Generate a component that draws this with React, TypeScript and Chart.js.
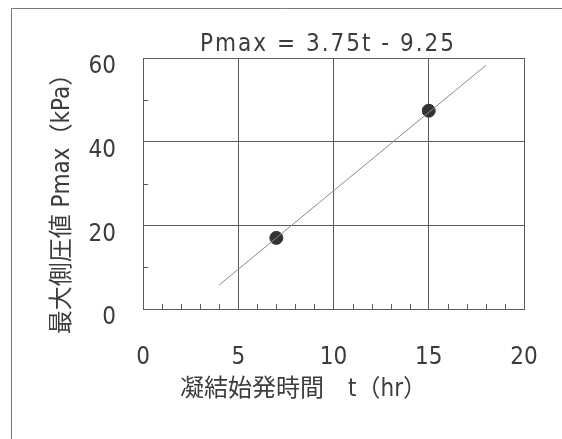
import React, { useEffect, useRef } from 'react';
import { Chart, registerables } from 'chart.js';
Chart.register(...registerables);

// fitted line end points (t, Pmax)
const fitT = [4, 18];
const fitP = [5.75, 58.25];
// observed points
const obsT = [7, 15];
const obsP = [17, 47.4];
// tick labels
const xTicks = [0, 5, 10, 15, 20];
const yTicks = [0, 20, 40, 60];
const xMinor = [1, 2, 3, 4, 6, 7, 8, 9, 11, 12, 13, 14, 16, 17, 18, 19];
const yMinor = [10, 30, 50];
const chartTitle = 'Pmax = 3.75t - 9.25';
const xTitle = '凝結始発時間\u3000t（hr）';
const yTitle = '最大側圧値 Pmax（kPa）';

const FONT = "'Liberation Sans Narrow', 'DejaVu Sans Condensed', 'Noto Sans CJK JP', sans-serif";
const TEXT = '#3c3c3c';
const GRID = '#5a5a5a';

const decor = {
  id: 'decor',
  afterDraw(chart: any) {
    const ctx = chart.ctx;
    const xs = chart.scales.x;
    const ys = chart.scales.y;
    const area = chart.chartArea;
    ctx.save();
    // outer frame (top and left edges)
    ctx.strokeStyle = '#777777';
    ctx.lineWidth = 1;
    ctx.beginPath();
    ctx.moveTo(11.5, 439);
    ctx.lineTo(11.5, 8.5);
    ctx.lineTo(562, 8.5);
    ctx.stroke();
    // minor ticks
    ctx.strokeStyle = GRID;
    ctx.beginPath();
    xMinor.forEach((v) => {
      const px = Math.round(xs.getPixelForValue(v)) + 0.5;
      ctx.moveTo(px, area.bottom);
      ctx.lineTo(px, area.bottom - 5);
    });
    yMinor.forEach((v) => {
      const py = Math.round(ys.getPixelForValue(v)) + 0.5;
      ctx.moveTo(area.left, py);
      ctx.lineTo(area.left + 5, py);
    });
    ctx.stroke();
    // titles
    ctx.fillStyle = TEXT;
    ctx.textAlign = 'center';
    ctx.textBaseline = 'middle';
    ctx.font = `24px ${FONT}`;
    (ctx as any).letterSpacing = '2px';
    ctx.fillText(chartTitle, 328, 45);
    (ctx as any).letterSpacing = '0px';
    ctx.textAlign = 'left';
    ctx.fillText(xTitle, 180, 390);
    ctx.textAlign = 'center';
    ctx.translate(63, 198);
    ctx.rotate(-Math.PI / 2);
    ctx.fillText(yTitle, 0, 0);
    ctx.restore();
  },
};

export default function App() {
  const ref = useRef<HTMLCanvasElement>(null);
  useEffect(() => {
    document.body.style.margin = '0';
    const chart = new Chart(ref.current!, {
      type: 'scatter',
      data: {
        datasets: [
          {
            type: 'line',
            data: fitT.map((t, i) => ({ x: t, y: fitP[i] })),
            borderColor: '#8a8a8a',
            borderWidth: 1,
            pointRadius: 0,
            fill: false,
          },
          {
            data: obsT.map((t, i) => ({ x: t, y: obsP[i] })),
            backgroundColor: '#333333',
            borderColor: '#333333',
            pointRadius: 6.5,
          },
        ],
      },
      options: {
        animation: false,
        responsive: true,
        maintainAspectRatio: false,
        layout: { padding: { left: 0, top: 58, right: 38, bottom: 0 } },
        plugins: { legend: { display: false }, tooltip: { enabled: false }, title: { display: false } },
        scales: {
          x: {
            type: 'linear',
            min: 0,
            max: 20,
            afterFit: (s: any) => { s.height = 130; s.paddingLeft = 0; s.paddingRight = 0; },
            afterBuildTicks: (s: any) => { s.ticks = xTicks.map((v) => ({ value: v })); },
            grid: { color: GRID, lineWidth: 1, drawTicks: false },
            border: { color: GRID },
            ticks: { padding: 34, color: TEXT, font: { family: FONT, size: 24 } },
          },
          y: {
            type: 'linear',
            min: 0,
            max: 60,
            afterFit: (s: any) => { s.width = 143; s.paddingTop = 0; s.paddingBottom = 0; },
            afterBuildTicks: (s: any) => { s.ticks = yTicks.map((v) => ({ value: v })); },
            grid: { color: GRID, lineWidth: 1, drawTicks: false },
            border: { color: GRID },
            ticks: { padding: 27, labelOffset: 9, color: TEXT, font: { family: FONT, size: 24 } },
          },
        },
      },
      plugins: [decor],
    });
    return () => chart.destroy();
  }, []);
  return (
    <div style={{ width: 562, height: 439, position: 'relative' }}>
      <canvas ref={ref} />
    </div>
  );
}
